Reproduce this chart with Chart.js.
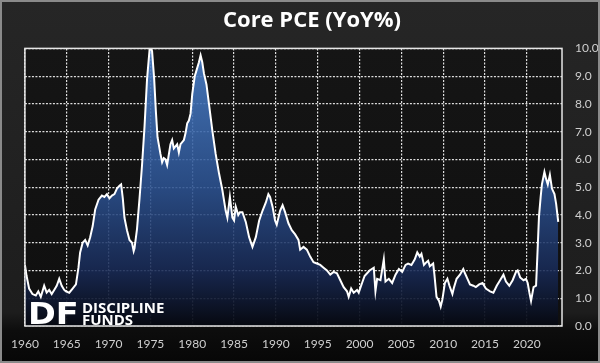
<!DOCTYPE html>
<html>
<head>
<meta charset="utf-8">
<script src="https://cdn.jsdelivr.net/npm/chart.js@4/dist/chart.umd.min.js"></script>
<style>
html,body{margin:0;padding:0;background:#111;}
#wrap{width:600px;height:363px;position:relative;}
canvas{display:block;}
</style>
</head>
<body>
<div id="wrap"><canvas id="c" width="600" height="363"></canvas></div>
<script>
const chartTitle = 'Core PCE (YoY%)';
const yearTicks = [1960,1965,1970,1975,1980,1985,1990,1995,2000,2005,2010,2015,2020];
const years = [
1960.0,1960.2,1960.5,1960.9,1961.3,1961.6,1961.9,1962.3,1962.6,1962.9,
1963.2,1963.5,1963.8,1964.1,1964.4,1964.7,1964.9,1965.3,1965.7,1966.1,
1966.4,1966.6,1966.9,1967.2,1967.5,1967.8,1968.1,1968.4,1968.8,1969.2,
1969.5,1969.8,1970.1,1970.4,1970.7,1971.0,1971.3,1971.5,1971.7,1971.9,
1972.2,1972.5,1972.8,1973.0,1973.1,1973.4,1973.7,1974.0,1974.3,1974.6,
1974.9,1975.1,1975.2,1975.45,1975.65,1975.85,1976.2,1976.4,1976.6,1976.8,
1977.0,1977.4,1977.6,1977.8,1978.2,1978.4,1978.6,1979.0,1979.2,1979.4,
1979.6,1979.8,1980.0,1980.3,1980.5,1980.8,1981.0,1981.2,1981.4,1981.7,
1982.0,1982.4,1982.8,1983.2,1983.6,1984.0,1984.2,1984.5,1984.8,1985.0,
1985.2,1985.5,1985.7,1986.0,1986.4,1986.8,1987.2,1987.6,1988.0,1988.4,
1988.8,1989.1,1989.3,1989.6,1989.9,1990.1,1990.5,1990.8,1991.1,1991.5,
1991.9,1992.3,1992.7,1992.9,1993.3,1993.7,1994.1,1994.5,1994.9,1995.3,
1995.7,1996.1,1996.5,1996.9,1997.3,1997.7,1998.1,1998.5,1998.7,1999.0,
1999.3,1999.7,1999.9,2000.3,2000.6,2000.9,2001.2,2001.7,2001.9,2002.1,
2002.5,2002.9,2003.1,2003.5,2003.9,2004.3,2004.7,2005.1,2005.5,2005.8,
2006.2,2006.6,2006.9,2007.2,2007.4,2007.7,2008.0,2008.2,2008.4,2008.8,
2008.95,2009.2,2009.5,2009.7,2009.9,2010.2,2010.5,2010.75,2011.1,2011.3,
2011.6,2012.0,2012.4,2012.6,2012.9,2013.2,2013.6,2013.9,2014.3,2014.7,
2015.1,2015.6,2016.0,2016.4,2016.8,2017.2,2017.5,2017.9,2018.3,2018.7,
2018.9,2019.2,2019.6,2019.9,2020.1,2020.3,2020.5,2020.8,2021.1,2021.25,
2021.45,2021.65,2021.8,2022.1,2022.3,2022.5,2022.75,2023.0,2023.3,2023.5,
2023.75
];
const coreYoY = [
2.2,1.8,1.35,1.15,1.1,1.25,1.05,1.45,1.2,1.3,
1.15,1.3,1.45,1.7,1.45,1.3,1.25,1.2,1.35,1.5,
2.1,2.65,3.0,3.1,2.9,3.2,3.6,4.2,4.55,4.7,
4.65,4.75,4.6,4.7,4.75,4.95,5.05,5.1,4.6,3.9,
3.45,3.1,3.0,2.7,2.8,3.5,4.6,5.8,7.2,8.9,
9.95,10.0,9.9,8.9,7.75,6.8,6.2,5.9,6.05,6.0,
5.8,6.55,6.7,6.4,6.55,6.25,6.55,6.7,6.95,7.3,
7.4,7.65,8.35,9.0,9.2,9.5,9.75,9.5,9.1,8.7,
8.0,7.05,6.2,5.5,4.9,4.15,3.9,4.65,3.9,3.8,
4.3,4.0,4.1,4.1,3.75,3.2,2.85,3.2,3.8,4.15,
4.45,4.75,4.65,4.3,3.8,3.65,4.15,4.35,4.1,3.7,
3.45,3.3,3.1,2.75,2.85,2.75,2.5,2.3,2.25,2.2,
2.1,2.0,1.85,1.95,1.9,1.65,1.4,1.25,1.05,1.35,
1.2,1.3,1.2,1.55,1.8,1.9,2.0,2.1,1.25,1.7,
1.65,2.4,1.6,1.7,1.55,1.85,2.05,1.95,2.2,2.25,
2.2,2.4,2.65,2.5,2.6,2.2,2.3,2.35,2.15,2.25,
1.85,1.05,0.9,0.7,0.95,1.55,1.7,1.45,1.15,1.4,
1.7,1.85,2.05,1.9,1.7,1.5,1.45,1.4,1.5,1.55,
1.35,1.25,1.2,1.45,1.65,1.85,1.6,1.45,1.65,1.95,
2.0,1.75,1.65,1.7,1.55,1.2,0.9,1.4,1.45,2.5,
3.95,4.65,5.1,5.55,5.3,5.1,5.45,4.95,4.75,4.4,
3.75
];
const points = years.map((x, i) => ({x: x, y: coreYoY[i]}));

const bgPlugin = {
  id: 'bg',
  beforeDraw(chart) {
    const {ctx, width, height, chartArea: a} = chart;
    ctx.save();
    const g = ctx.createLinearGradient(0, 0, 0, height);
    g.addColorStop(0, '#262626');
    g.addColorStop(0.86, '#1d1d1d');
    g.addColorStop(0.91, '#0d0d0d');
    g.addColorStop(1, '#070707');
    ctx.fillStyle = g;
    ctx.fillRect(0, 0, width, height);
    const g2 = ctx.createLinearGradient(0, a.top, 0, a.bottom);
    g2.addColorStop(0, '#151515');
    g2.addColorStop(1, '#0f0f0f');
    ctx.fillStyle = g2;
    ctx.fillRect(a.left, a.top, a.right - a.left, a.bottom - a.top);
    ctx.restore();
  },
  afterDraw(chart) {
    const {ctx, width, height, chartArea: a} = chart;
    ctx.save();
    ctx.strokeStyle = '#e6e6e6';
    ctx.lineWidth = 1.5;
    ctx.strokeRect(a.left, a.top, a.right - a.left, a.bottom - a.top);
    // outer frame
    ctx.strokeStyle = '#8a8a8a';
    ctx.lineWidth = 2;
    ctx.strokeRect(1, 1, width - 2, height - 2);
    // logo
    ctx.fillStyle = '#ffffff';
    ctx.textBaseline = 'alphabetic';
    ctx.textAlign = 'left';
    ctx.save();
    ctx.translate(28, 324);
    ctx.scale(1.08, 1);
    ctx.font = 'bold 31px "DejaVu Sans"';
    ctx.fillText('DF', 0, 0);
    ctx.restore();
    ctx.font = 'bold 15px "Open Sans"';
    ctx.fillText('DISCIPLINE', 82, 313);
    ctx.fillText('FUNDS', 82, 324.5);
    ctx.restore();
  }
};

const gridColor = 'rgba(240,240,240,0.92)';
new Chart(document.getElementById('c'), {
  type: 'line',
  data: {
    datasets: [{
      data: points,
      borderColor: '#ffffff',
      borderWidth: 2,
      pointRadius: 0,
      tension: 0,
      fill: 'origin',
      backgroundColor: (c) => {
        const a = c.chart.chartArea;
        if (!a) return '#2a4f8c';
        const g = c.chart.ctx.createLinearGradient(0, a.top, 0, a.bottom);
        g.addColorStop(0, 'rgba(76,130,204,0.9)');
        g.addColorStop(0.5, 'rgba(44,82,145,0.88)');
        g.addColorStop(0.8, 'rgba(24,42,86,0.88)');
        g.addColorStop(1, 'rgba(6,8,16,0.95)');
        return g;
      }
    }]
  },
  options: {
    responsive: false,
    animation: false,
    layout: {padding: {left: 24, right: 0, top: 0, bottom: 0}},
    plugins: {
      legend: {display: false},
      tooltip: {enabled: false},
      title: {
        display: true,
        text: chartTitle,
        color: '#ffffff',
        font: {family: 'Open Sans', size: 22, weight: 'bold'},
        padding: {top: 8, bottom: 14}
      }
    },
    scales: {
      x: {
        type: 'linear',
        min: 1960,
        max: 2024.2,
        afterBuildTicks: (s) => { s.ticks = yearTicks.map(v => ({value: v})); },
        afterFit: (s) => { s.height = 37; },
        ticks: {
          color: '#cfcfcf',
          font: {family: 'Lato', size: 12},
          padding: 11,
          maxRotation: 0,
          autoSkip: false,
          callback: (v) => String(v)
        },
        grid: {color: gridColor, lineWidth: 1.2, drawTicks: false},
        border: {display: false, dash: [2, 1.5]}
      },
      y: {
        position: 'right',
        min: 0,
        max: 10,
        afterFit: (s) => { s.width = 38; },
        ticks: {
          stepSize: 1,
          color: '#cfcfcf',
          font: {family: 'Lato', size: 12},
          padding: 13,
          callback: (v) => Number(v).toFixed(1)
        },
        grid: {color: gridColor, lineWidth: 1.2, drawTicks: false},
        border: {display: false, dash: [2, 1.5]}
      }
    }
  },
  plugins: [bgPlugin]
});
</script>
</body>
</html>
